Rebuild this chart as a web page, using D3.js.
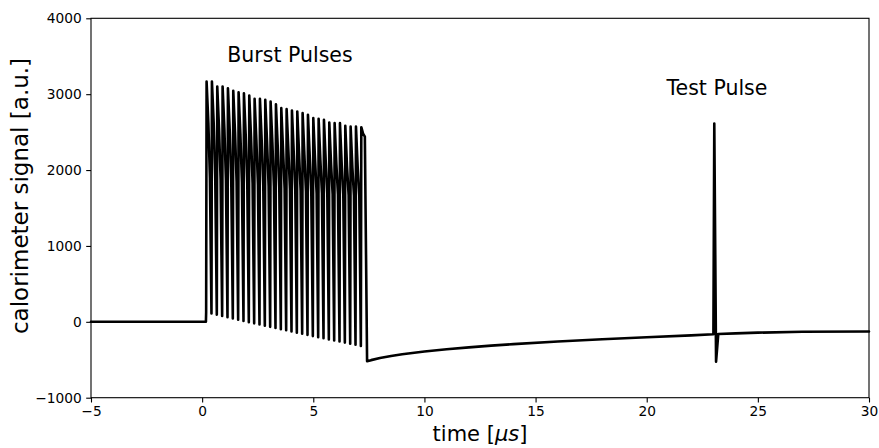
<!DOCTYPE html>
<html>
<head>
<meta charset="utf-8">
<script src="https://cdn.jsdelivr.net/npm/d3@7"></script>
<style>
  html, body { margin: 0; padding: 0; background: #fff; }
  svg { display: block; font-family: "DejaVu Sans", sans-serif; }
</style>
</head>
<body>
<svg id="chart" width="879" height="448"></svg>
<script>
// ---- Data ----
const xTicks = [-5, 0, 5, 10, 15, 20, 25, 30];
const yTicks = [-1000, 0, 1000, 2000, 3000, 4000];

// flat baseline before the burst
const baselineT = [-5, -4, -3, -2, -1, 0, 0.17, 0.18];
const baselineV = [0, 0, 0, 0, 0, 0, 0, 125];

// burst pulses: peak, shoulder and knee on the falling edge, trough before the next rise
const peakT = [0.20, 0.44, 0.68, 0.92, 1.16, 1.40, 1.64, 1.88, 2.12, 2.36, 2.60, 2.84, 3.08, 3.32, 3.56,
               3.80, 4.04, 4.28, 4.52, 4.76, 5.00, 5.24, 5.48, 5.72, 5.96, 6.20, 6.44, 6.68, 6.92, 7.16];
const peakV = [3167, 3167, 3101, 3101, 3079, 3044, 3026, 3013, 2983, 2939, 2939, 2926, 2904, 2868, 2816,
               2803, 2785, 2772, 2750, 2729, 2684, 2676, 2663, 2627, 2618, 2618, 2583, 2574, 2574, 2565];
const shoulderT = [0.28, 0.52, 0.76, 1.00, 1.24, 1.48, 1.72, 1.96, 2.20, 2.44, 2.68, 2.92, 3.16, 3.40, 3.64,
                   3.88, 4.12, 4.36, 4.60, 4.84, 5.08, 5.32, 5.56, 5.80, 6.04, 6.28, 6.52, 6.76, 7.00, 7.24];
const shoulderV = [2620, 2615, 2550, 2550, 2530, 2495, 2475, 2460, 2430, 2390, 2390, 2375, 2355, 2320, 2265,
                   2255, 2235, 2220, 2200, 2180, 2135, 2125, 2115, 2080, 2070, 2070, 2035, 2025, 2025, 2480];
const kneeT = [0.35, 0.59, 0.83, 1.07, 1.31, 1.55, 1.79, 2.03, 2.27, 2.51, 2.75, 2.99, 3.23, 3.47, 3.71,
               3.95, 4.19, 4.43, 4.67, 4.91, 5.15, 5.39, 5.63, 5.87, 6.11, 6.35, 6.59, 6.83, 7.07, 7.32];
const kneeV = [1900, 1890, 1880, 1870, 1860, 1850, 1840, 1830, 1820, 1810, 1800, 1790, 1780, 1770, 1760,
               1750, 1740, 1730, 1720, 1710, 1700, 1695, 1690, 1685, 1680, 1675, 1670, 1665, 1660, 2440];
const troughT = [0.42, 0.66, 0.90, 1.14, 1.38, 1.62, 1.86, 2.10, 2.34, 2.58, 2.82, 3.06, 3.30, 3.54, 3.78,
                 4.02, 4.26, 4.50, 4.74, 4.98, 5.22, 5.46, 5.70, 5.94, 6.18, 6.42, 6.66, 6.90, 7.14, 7.42];
const troughV = [110, 95, 78, 60, 44, 28, 12, -4, -20, -36, -52, -66, -82, -98, -112,
                 -128, -143, -158, -172, -188, -202, -216, -232, -246, -260, -274, -288, -302, -318, -520];

// undershoot recovery with the test pulse
const recoveryT = [7.6, 8, 8.5, 9, 10, 11, 12, 13, 14, 16, 18, 20, 22, 23.00, 23.04, 23.12, 23.22, 24, 25, 27, 30];
const recoveryV = [-505, -478, -450, -428, -392, -362, -337, -314, -294, -259, -230, -204, -178, -163, 2614, -525, -160, -152, -143, -130, -127];

const annotations = [
  { text: "Burst Pulses", t: 3.95, v: 3418 },
  { text: "Test Pulse", t: 23.16, v: 2983 }
];

// ---- Build the signal from the arrays ----
const signal = [];
baselineT.forEach((t, i) => signal.push([t, baselineV[i]]));
peakT.forEach((t, i) => {
  signal.push([t, peakV[i]]);
  signal.push([shoulderT[i], shoulderV[i]]);
  signal.push([kneeT[i], kneeV[i]]);
  signal.push([troughT[i], troughV[i]]);
});
recoveryT.forEach((t, i) => signal.push([t, recoveryV[i]]));

// ---- Layout ----
const plot = { left: 91, right: 869, top: 18.3, bottom: 397.7 };

const svg = d3.select("#chart");
const x = d3.scaleLinear().domain([-5, 30]).range([plot.left, plot.right]);
const y = d3.scaleLinear().domain([-1000, 4000]).range([plot.bottom, plot.top]);

const fmt = d3.format("d");

// signal line
svg.append("path")
  .datum(signal)
  .attr("fill", "none")
  .attr("stroke", "#000")
  .attr("stroke-width", 2.6)
  .attr("stroke-linejoin", "round")
  .attr("stroke-linecap", "round")
  .attr("d", d3.line().x(d => x(d[0])).y(d => y(d[1])));

// axes
const xAxis = svg.append("g")
  .attr("transform", `translate(0,${plot.bottom})`)
  .call(d3.axisBottom(x).tickValues(xTicks).tickFormat(fmt).tickSize(4.8).tickPadding(4));
const yAxis = svg.append("g")
  .attr("transform", `translate(${plot.left},0)`)
  .call(d3.axisLeft(y).tickValues(yTicks).tickFormat(fmt).tickSize(4.8).tickPadding(4.5));
[xAxis, yAxis].forEach(g => {
  g.select(".domain").remove();
  g.selectAll(".tick line").attr("stroke", "#000").attr("stroke-width", 1.1);
  g.selectAll(".tick text")
    .attr("fill", "#000")
    .style("font-family", "'DejaVu Sans', sans-serif")
    .style("font-size", "13.75px");
});

// spines (box)
svg.append("rect")
  .attr("x", plot.left).attr("y", plot.top)
  .attr("width", plot.right - plot.left).attr("height", plot.bottom - plot.top)
  .attr("fill", "none").attr("stroke", "#000").attr("stroke-width", 1.1);

// axis labels
const xl = svg.append("text")
  .attr("x", (plot.left + plot.right) / 2)
  .attr("y", 441)
  .attr("text-anchor", "middle")
  .style("font-size", "21px")
  .attr("fill", "#000");
xl.append("tspan").text("time [");
xl.append("tspan").style("font-style", "italic").text("μs");
xl.append("tspan").text("]");

svg.append("text")
  .attr("transform", `translate(28,196) rotate(-90)`)
  .attr("text-anchor", "middle")
  .style("font-size", "23px")
  .attr("fill", "#000")
  .text("calorimeter signal [a.u.]");

// annotations
svg.selectAll("text.annot")
  .data(annotations)
  .enter().append("text")
  .attr("class", "annot")
  .attr("x", d => x(d.t))
  .attr("y", d => y(d.v))
  .attr("text-anchor", "middle")
  .style("font-size", "20.5px")
  .attr("fill", "#000")
  .text(d => d.text);
</script>
</body>
</html>
